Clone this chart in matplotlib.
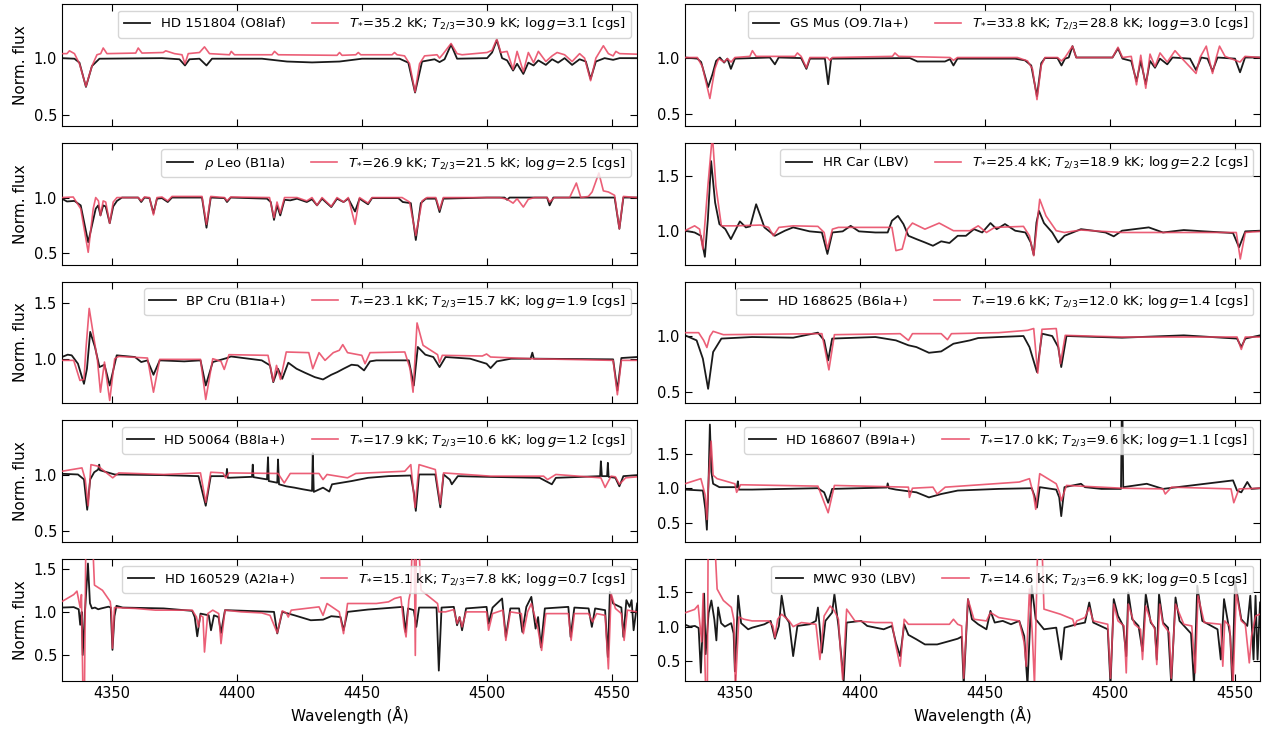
import matplotlib
matplotlib.use("Agg")
import matplotlib.pyplot as plt
from matplotlib.ticker import MultipleLocator

# ---------------- data (wavelength in Angstrom, normalised flux) ----------------
# HD 151804
hd151804_obs_wl = [4330, 4335, 4337, 4339.6, 4342, 4345, 4370, 4377, 4379.2, 4381, 4385, 4387.8, 4390, 4410, 4420, 4430, 4441, 4450, 4465, 4468.5, 4471.2, 4474, 4479, 4481, 4483, 4485.6, 4488, 4500, 4502, 4503.9, 4506, 4508, 4510.4, 4512, 4514.5, 4516.5, 4518.6, 4520.5, 4523.5, 4526, 4528.4, 4531, 4534, 4537, 4539.5, 4541.4, 4543.5, 4547, 4550.4, 4553, 4560]
hd151804_obs_fx = [1.0, 0.995, 0.96, 0.745, 0.93, 0.995, 1.0, 0.99, 0.935, 0.99, 0.995, 0.935, 0.995, 0.995, 0.97, 0.962, 0.97, 0.995, 0.995, 0.96, 0.695, 0.97, 0.99, 0.965, 0.99, 1.12, 0.995, 1.0, 1.05, 1.16, 1.0, 0.98, 0.89, 0.95, 0.86, 0.96, 0.935, 0.98, 0.94, 0.99, 0.96, 1.0, 0.94, 0.99, 0.97, 0.815, 0.97, 1.0, 0.985, 1.0, 1.0]
hd151804_mod_wl = [4330, 4332, 4333, 4335, 4337, 4339.6, 4342, 4344, 4345.5, 4346.5, 4348, 4359.5, 4360.5, 4362, 4370.5, 4371.5, 4375, 4378, 4379.2, 4380.5, 4385, 4387, 4389, 4397, 4397.7, 4399, 4414, 4415, 4416.5, 4440, 4441, 4442, 4447.5, 4448.5, 4449.5, 4462, 4463, 4464, 4467, 4469, 4471.2, 4473, 4475, 4480, 4481, 4482.5, 4485.6, 4488, 4490, 4500, 4502, 4503.9, 4505.5, 4508, 4510.4, 4512, 4514.5, 4516.5, 4518.6, 4520.5, 4523.5, 4526, 4528, 4531, 4534, 4537, 4539, 4541.4, 4543.5, 4546.5, 4548.5, 4550.4, 4551.5, 4553, 4560]
hd151804_mod_fx = [1.04, 1.04, 1.065, 1.04, 0.95, 0.75, 0.93, 1.03, 1.04, 1.09, 1.04, 1.045, 1.09, 1.045, 1.05, 1.065, 1.04, 1.03, 0.95, 1.04, 1.05, 1.10, 1.04, 1.03, 1.06, 1.03, 1.03, 1.06, 1.03, 1.025, 1.05, 1.025, 1.03, 1.05, 1.03, 1.03, 1.05, 1.03, 1.02, 0.95, 0.70, 0.95, 1.02, 1.03, 1.0, 1.04, 1.13, 1.04, 1.03, 1.05, 1.07, 1.17, 1.05, 1.06, 0.90, 1.06, 0.88, 1.05, 0.96, 1.06, 0.97, 1.02, 1.05, 1.03, 0.97, 1.04, 1.0, 0.80, 1.0, 1.11, 1.04, 1.02, 1.06, 1.04, 1.035]

# GS Mus
gsmus_obs_wl = [4330, 4335, 4336.5, 4339.3, 4341, 4342.5, 4344, 4345.7, 4347, 4348.4, 4350, 4364, 4366, 4367.5, 4376.5, 4378.6, 4380, 4386, 4387.3, 4388.5, 4420, 4423, 4434, 4436, 4437.4, 4439, 4462, 4466, 4468.5, 4470.8, 4472.5, 4474, 4479, 4480.6, 4482, 4483.5, 4485, 4486.5, 4501, 4503.2, 4505, 4508.5, 4510.6, 4512.3, 4514.3, 4516, 4518, 4520, 4522.9, 4525, 4532, 4534.4, 4536.5, 4539, 4541, 4543, 4550, 4552, 4554, 4560]
gsmus_obs_fx = [1.0, 0.99, 0.96, 0.74, 0.85, 0.97, 1.0, 0.955, 0.99, 0.90, 0.99, 1.0, 0.94, 1.0, 0.995, 0.90, 0.99, 0.99, 0.765, 0.99, 0.995, 0.965, 0.965, 0.985, 0.93, 0.99, 0.99, 0.975, 0.93, 0.66, 0.95, 0.995, 0.995, 0.93, 0.99, 1.0, 1.10, 1.0, 1.0, 1.08, 0.99, 0.97, 0.79, 0.97, 0.765, 0.97, 0.91, 0.99, 0.94, 1.0, 0.99, 0.89, 1.0, 0.99, 0.88, 1.0, 0.99, 0.87, 1.0, 1.0]
gsmus_mod_wl = [4330, 4335, 4337, 4340, 4342, 4343.5, 4345.7, 4347, 4348.5, 4350, 4356, 4357, 4358.5, 4374, 4375, 4376.5, 4378.6, 4380, 4387, 4388, 4389, 4413, 4414, 4415.5, 4436, 4437.4, 4439, 4463, 4467, 4469, 4470.8, 4472.5, 4474, 4479, 4480.6, 4482, 4485, 4486.5, 4501, 4503.2, 4505, 4508.5, 4510.6, 4512.3, 4514.3, 4516, 4518, 4520, 4522.9, 4526, 4528, 4534.4, 4536, 4538.5, 4539.5, 4541, 4542.5, 4543.8, 4546, 4552, 4554, 4560]
gsmus_mod_fx = [1.0, 1.0, 0.92, 0.64, 0.90, 0.99, 0.96, 0.99, 0.96, 1.0, 1.01, 1.06, 1.01, 1.01, 1.04, 1.01, 0.91, 1.0, 1.0, 0.975, 1.0, 1.01, 1.04, 1.01, 1.0, 0.975, 1.0, 1.0, 0.97, 0.90, 0.63, 0.93, 1.0, 1.0, 0.97, 1.0, 1.10, 1.0, 1.0, 1.09, 1.0, 1.01, 0.76, 1.02, 0.73, 1.03, 0.92, 1.04, 0.96, 1.06, 1.01, 0.86, 1.0, 1.10, 1.0, 0.86, 1.0, 1.10, 1.01, 0.96, 1.01, 1.0]

# rho Leo
rholeo_obs_wl = [4330, 4332, 4335, 4337.5, 4340.5, 4343.5, 4344.5, 4345.4, 4346.5, 4347.5, 4349.1, 4350.5, 4352, 4354, 4360.5, 4361.7, 4363, 4365, 4366.6, 4368, 4370, 4372.3, 4374, 4386, 4387.8, 4389.5, 4395, 4396, 4397.5, 4412, 4413.5, 4414.8, 4416, 4417.3, 4419, 4421.3, 4424, 4427.9, 4430, 4432, 4434, 4437.7, 4440, 4442.6, 4444.5, 4447.2, 4449, 4452.4, 4454, 4464.5, 4466.3, 4469.5, 4471.5, 4473.5, 4475.5, 4479.5, 4481, 4482.5, 4500, 4507, 4508, 4509, 4524, 4525, 4526.5, 4551, 4552.9, 4554.5, 4560]
rholeo_obs_fx = [0.99, 0.965, 0.97, 0.93, 0.60, 0.90, 0.93, 0.84, 0.93, 0.92, 0.77, 0.92, 0.97, 1.0, 1.0, 0.96, 1.0, 0.995, 0.86, 0.99, 0.995, 0.96, 1.0, 1.0, 0.73, 1.0, 0.995, 0.96, 1.0, 0.99, 0.96, 0.80, 0.93, 0.84, 0.98, 0.975, 0.99, 0.96, 0.985, 0.93, 0.99, 0.915, 0.99, 0.96, 0.99, 0.875, 0.99, 0.94, 0.995, 0.995, 0.96, 0.95, 0.62, 0.95, 0.99, 0.99, 0.87, 0.99, 1.0, 1.0, 0.98, 1.0, 1.0, 0.93, 1.0, 1.0, 0.72, 1.0, 1.0]
rholeo_mod_wl = [4330, 4334.5, 4337.5, 4340.5, 4342.5, 4343.5, 4344.6, 4345.4, 4346.5, 4347.5, 4349.1, 4350.5, 4352, 4360.5, 4361.7, 4363, 4365, 4366.6, 4368, 4370, 4372.3, 4374, 4386, 4387.8, 4389.5, 4395, 4396, 4397.5, 4413, 4414.8, 4416, 4417.3, 4419, 4424, 4427.9, 4430, 4432, 4434, 4437.7, 4440, 4442.6, 4444.5, 4447.2, 4449, 4452.4, 4454, 4466, 4469, 4471.5, 4474, 4476, 4479.5, 4481, 4482.5, 4505, 4508, 4510.4, 4512, 4514.5, 4516.5, 4519, 4524, 4525, 4527, 4533, 4535.7, 4537.5, 4540.5, 4542, 4544.7, 4546.5, 4548.5, 4551, 4552.9, 4554.5, 4560]
rholeo_mod_fx = [1.0, 1.005, 0.90, 0.51, 0.90, 1.0, 0.97, 0.84, 0.97, 0.96, 0.77, 0.96, 1.0, 1.0, 0.97, 1.005, 1.0, 0.845, 1.0, 1.005, 0.97, 1.01, 1.01, 0.76, 1.01, 1.0, 0.97, 1.005, 1.0, 0.82, 0.96, 0.86, 1.0, 1.0, 0.97, 1.0, 0.93, 1.0, 0.92, 1.0, 0.96, 1.0, 0.76, 1.0, 0.95, 1.0, 1.0, 0.96, 0.66, 0.97, 1.0, 1.0, 0.89, 1.0, 1.0, 0.985, 0.95, 0.99, 0.915, 0.985, 1.0, 1.0, 0.96, 1.0, 1.0, 1.13, 1.0, 1.01, 1.05, 1.22, 1.06, 1.05, 1.02, 0.72, 1.01, 1.0]

# HR Car
hrcar_obs_wl = [4330, 4333.9, 4336.4, 4338.0, 4339.2, 4340.5, 4342.1, 4343.8, 4346.2, 4348.4, 4352.0, 4354.4, 4356.1, 4358.5, 4360.2, 4361.8, 4366.0, 4370.0, 4373.3, 4379.9, 4384.8, 4387.0, 4389.0, 4393.1, 4396.3, 4399.6, 4406.2, 4411.1, 4412.8, 4415.2, 4417.4, 4419.4, 4422.6, 4426.0, 4429.2, 4432.5, 4435.8, 4439.1, 4442.4, 4445.6, 4448.9, 4452.2, 4454.7, 4458.0, 4462.1, 4466.2, 4468.3, 4469.5, 4470.6, 4471.6, 4473.6, 4476.9, 4479.3, 4481.8, 4488.4, 4493.3, 4498.2, 4501.5, 4504.8, 4515.5, 4521.2, 4529.5, 4537.7, 4549.2, 4551.6, 4554.1, 4560]
hrcar_obs_fx = [1.006, 0.99, 0.96, 0.77, 1.11, 1.635, 1.26, 1.066, 1.02, 0.93, 1.09, 1.036, 1.045, 1.245, 1.14, 1.036, 0.96, 1.006, 1.036, 1.0, 0.99, 0.796, 0.99, 1.0, 1.05, 1.0, 0.99, 0.99, 1.096, 1.14, 1.066, 0.96, 0.93, 0.90, 0.87, 0.91, 0.895, 0.96, 0.96, 1.02, 0.99, 1.075, 1.02, 1.066, 1.006, 0.99, 0.90, 0.787, 1.08, 1.185, 1.075, 0.99, 0.90, 0.96, 1.02, 1.006, 0.99, 0.955, 1.006, 1.036, 0.99, 1.012, 1.0, 0.985, 0.856, 1.0, 1.006]
hrcar_mod_wl = [4330, 4333.9, 4335.9, 4337.2, 4339.2, 4341.0, 4342.4, 4344.6, 4350.3, 4360.2, 4363.5, 4365.4, 4367.6, 4373.3, 4383.2, 4385.7, 4387.0, 4389.0, 4391.4, 4412.8, 4414.4, 4416.9, 4419.0, 4421.0, 4426.0, 4431.7, 4437.4, 4444.0, 4447.3, 4450.6, 4453.9, 4465.4, 4467.8, 4469.5, 4471.9, 4474.4, 4478.5, 4481.8, 4488.4, 4504.8, 4521.2, 4550.5, 4552.1, 4554.1, 4560]
hrcar_mod_fx = [1.006, 1.05, 1.02, 0.84, 1.41, 1.87, 1.41, 1.05, 1.05, 1.057, 1.036, 0.96, 1.036, 1.05, 1.045, 0.99, 0.84, 1.02, 1.036, 1.036, 0.826, 0.84, 1.02, 1.075, 1.02, 1.075, 1.006, 1.006, 1.05, 0.99, 1.036, 1.045, 0.96, 0.78, 1.29, 1.14, 1.006, 0.99, 1.012, 0.99, 0.99, 0.99, 0.75, 0.99, 1.0]

# BP Cru
bpcru_obs_wl = [4330, 4332.3, 4333.9, 4336.4, 4338.8, 4340.0, 4341.3, 4343.2, 4345.0, 4347.0, 4349.1, 4351.9, 4359.2, 4361.7, 4364.2, 4366.6, 4369.1, 4378.9, 4385.4, 4387.5, 4390.3, 4396.0, 4397.6, 4409.9, 4413.2, 4414.5, 4416.4, 4418.1, 4420.5, 4423.8, 4427.1, 4431.1, 4434.4, 4437.7, 4440.1, 4442.6, 4445.8, 4448.3, 4450.8, 4453.2, 4455.7, 4468.7, 4470.7, 4472.3, 4475.3, 4478.5, 4481.0, 4483.4, 4493.2, 4499.8, 4501.4, 4503.9, 4509.6, 4517.4, 4518.1, 4518.7, 4550.4, 4552.1, 4553.7, 4560]
bpcru_obs_fx = [1.015, 1.036, 1.03, 0.955, 0.775, 0.91, 1.24, 1.105, 0.925, 0.946, 0.76, 1.03, 1.015, 0.97, 0.985, 0.856, 0.985, 0.976, 0.985, 0.76, 0.97, 1.006, 1.02, 0.985, 0.94, 0.79, 0.91, 0.82, 0.964, 0.91, 0.875, 0.835, 0.814, 0.856, 0.88, 0.91, 0.946, 0.94, 0.895, 0.976, 0.985, 0.985, 0.76, 1.105, 1.036, 1.015, 0.925, 1.015, 1.0, 0.955, 0.916, 0.976, 1.0, 1.0, 1.054, 1.0, 0.994, 0.716, 1.006, 1.015]
bpcru_mod_wl = [4330, 4334.7, 4337.2, 4338.8, 4339.6, 4340.9, 4342.6, 4344.2, 4345.4, 4347.0, 4349.1, 4351.1, 4352.7, 4364.2, 4366.6, 4369.1, 4385.4, 4387.5, 4390.3, 4393.6, 4394.9, 4396.8, 4412.4, 4414.5, 4415.8, 4417.4, 4419.7, 4428.7, 4430.3, 4432.8, 4435.2, 4438.5, 4440.9, 4442.3, 4444.2, 4449.9, 4451.2, 4453.2, 4467.1, 4469.2, 4470.4, 4472.0, 4474.4, 4480.2, 4481.0, 4482.1, 4498.1, 4499.8, 4501.4, 4517.7, 4550.4, 4552.1, 4553.7, 4560]
bpcru_mod_fx = [0.985, 0.985, 0.805, 0.814, 1.09, 1.45, 1.21, 0.985, 0.70, 0.97, 0.626, 1.0, 1.02, 1.006, 0.70, 0.994, 0.994, 0.635, 1.0, 0.976, 0.904, 1.036, 1.03, 0.796, 0.94, 0.814, 1.06, 1.054, 0.91, 1.054, 0.985, 1.054, 1.075, 1.126, 1.054, 1.03, 0.955, 1.054, 1.06, 0.91, 0.70, 1.32, 1.12, 1.036, 0.964, 1.03, 1.024, 1.042, 1.015, 1.0, 0.985, 0.677, 0.985, 0.985]

# HD 168625
hd168625_obs_wl = [4330, 4334.7, 4337.2, 4339.3, 4341.3, 4344.6, 4356.9, 4373.3, 4383.2, 4385.7, 4387.3, 4388.9, 4406.2, 4414.4, 4419.4, 4422.6, 4427.6, 4432.5, 4437.4, 4444.0, 4447.3, 4455.5, 4465.4, 4467.8, 4470.8, 4472.8, 4476.9, 4479.3, 4480.5, 4482.6, 4504.8, 4529.5, 4550.8, 4552.5, 4554.1, 4560]
hd168625_obs_fx = [1.01, 0.964, 0.80, 0.53, 0.86, 0.98, 0.994, 0.988, 1.033, 0.964, 0.785, 0.98, 0.994, 0.964, 0.92, 0.904, 0.853, 0.865, 0.934, 0.964, 0.985, 0.994, 1.003, 0.904, 0.68, 1.024, 1.003, 0.904, 0.725, 1.003, 0.988, 1.009, 0.98, 0.904, 0.98, 1.009]
hd168625_mod_wl = [4330, 4335.5, 4337.5, 4338.8, 4340.0, 4341.3, 4345.4, 4384.8, 4387.6, 4389.8, 4416.1, 4419.4, 4421.0, 4432.5, 4435.0, 4436.6, 4455.5, 4467.0, 4469.5, 4471.1, 4472.8, 4478.5, 4480.2, 4482.1, 4504.8, 4550.8, 4552.5, 4554.1, 4560]
hd168625_mod_fx = [1.033, 1.033, 0.964, 0.90, 1.0, 1.045, 1.015, 1.024, 0.70, 1.015, 1.024, 0.964, 1.024, 1.024, 0.97, 1.024, 1.033, 1.054, 1.07, 0.67, 1.063, 1.07, 0.755, 1.009, 0.994, 0.994, 0.883, 0.994, 0.994]

# HD 50064
hd50064_obs_wl = [4330, 4336.4, 4338.8, 4340.1, 4341.3, 4342.9, 4344.5, 4344.9, 4345.2, 4351.1, 4370.7, 4384.6, 4387.5, 4389.5, 4395.7, 4396.0, 4396.3, 4406.0, 4406.3, 4406.6, 4412.0, 4412.4, 4412.7, 4416.1, 4416.4, 4416.8, 4419.7, 4423.0, 4426.2, 4430.0, 4430.3, 4430.7, 4434.4, 4436.9, 4438.0, 4445.8, 4452.4, 4460.6, 4469.5, 4470.7, 4471.5, 4472.8, 4479.3, 4481.3, 4482.6, 4485.1, 4485.9, 4488.3, 4499.8, 4521.0, 4525.9, 4527.5, 4545.2, 4545.5, 4545.9, 4548.0, 4548.3, 4548.6, 4551.3, 4552.9, 4554.5, 4560]
hd50064_obs_fx = [1.012, 1.006, 0.962, 0.69, 0.962, 1.026, 1.05, 1.094, 1.044, 1.006, 1.0, 0.991, 0.726, 0.991, 0.991, 1.056, 0.976, 0.985, 1.094, 0.982, 0.962, 1.16, 0.947, 0.932, 1.14, 0.918, 0.90, 0.888, 0.874, 0.859, 1.197, 0.85, 0.888, 0.853, 0.918, 0.947, 0.976, 0.991, 0.997, 0.844, 0.68, 1.006, 1.006, 0.712, 1.006, 0.96, 0.918, 0.991, 0.985, 0.976, 0.918, 0.976, 0.991, 1.124, 0.991, 0.991, 1.11, 0.985, 0.976, 0.90, 0.991, 1.0]
hd50064_mod_wl = [4330, 4338.0, 4339.3, 4340.5, 4341.6, 4344.5, 4350.3, 4352.7, 4370.7, 4385.4, 4387.5, 4389.5, 4394.4, 4395.5, 4396.8, 4416.4, 4418.9, 4421.3, 4432.8, 4434.4, 4436.0, 4444.2, 4447.5, 4467.1, 4469.5, 4471.2, 4472.8, 4479.3, 4481.3, 4482.6, 4501.4, 4522.6, 4524.2, 4527.5, 4545.5, 4547.2, 4549.6, 4551.3, 4552.9, 4555.4, 4560]
hd50064_mod_fx = [1.035, 1.065, 0.962, 0.726, 1.094, 1.08, 0.976, 1.02, 1.006, 1.02, 0.756, 1.026, 1.02, 0.976, 1.02, 1.015, 0.93, 1.015, 1.015, 0.96, 1.006, 0.976, 1.015, 1.035, 1.094, 0.71, 1.094, 1.05, 0.74, 1.02, 0.991, 0.991, 0.96, 1.006, 0.976, 0.89, 0.991, 0.985, 0.918, 0.976, 0.985]

# HD 168607
hd168607_obs_wl = [4330, 4337.2, 4338.2, 4338.8, 4339.5, 4340.0, 4340.6, 4341.3, 4343.8, 4350.8, 4351.2, 4351.6, 4356.9, 4383.2, 4385.7, 4387.3, 4388.9, 4410.8, 4411.1, 4411.6, 4414.4, 4422.6, 4427.6, 4432.5, 4439.1, 4455.5, 4468.7, 4469.8, 4470.8, 4471.9, 4478.5, 4479.7, 4480.5, 4481.8, 4488.4, 4490.0, 4496.6, 4504.4, 4504.7, 4505.0, 4505.3, 4514.7, 4521.2, 4549.2, 4550.8, 4552.5, 4554.9, 4556.6, 4560]
hd168607_obs_fx = [0.98, 0.966, 0.695, 0.40, 1.14, 1.92, 1.236, 1.064, 1.015, 1.015, 1.10, 0.98, 0.98, 1.0, 0.94, 0.79, 0.99, 1.01, 1.07, 1.0, 0.98, 0.94, 0.867, 0.916, 0.966, 0.99, 1.0, 0.89, 0.72, 1.015, 0.98, 0.867, 0.596, 1.015, 1.064, 1.015, 0.99, 0.99, 2.05, 2.05, 1.015, 1.064, 0.99, 1.113, 0.966, 0.94, 1.09, 0.99, 1.0]
hd168607_mod_wl = [4330, 4336.4, 4338.2, 4338.8, 4339.5, 4340.5, 4341.3, 4342.9, 4350.0, 4350.7, 4352.3, 4383.2, 4387.3, 4389.8, 4419.4, 4419.8, 4421.0, 4429.2, 4430.9, 4434.1, 4463.7, 4467.8, 4469.5, 4470.3, 4471.9, 4478.5, 4479.8, 4480.5, 4482.6, 4504.8, 4521.2, 4522.1, 4524.6, 4548.4, 4549.5, 4551.6, 4560]
hd168607_mod_fx = [1.064, 1.138, 0.89, 0.547, 1.138, 1.68, 1.187, 1.138, 1.064, 0.94, 1.05, 1.03, 0.645, 1.04, 1.015, 0.867, 1.0, 1.015, 0.916, 1.015, 1.089, 1.138, 0.89, 0.695, 1.21, 1.064, 0.94, 0.818, 1.04, 1.0, 0.99, 0.916, 1.015, 0.99, 0.79, 0.99, 1.0]

# HD 160529
hd160529_obs_wl = [4330, 4334.7, 4336.7, 4337.3, 4337.9, 4338.3, 4339.2, 4340.4, 4341.2, 4342.0, 4343.2, 4344.5, 4345.7, 4348.6, 4349.5, 4350.2, 4351.0, 4351.8, 4354.3, 4370.7, 4382.1, 4383.1, 4384.1, 4385.4, 4388.7, 4389.6, 4390.8, 4392.6, 4393.6, 4395.2, 4403.4, 4414.8, 4416.1, 4418.1, 4423.0, 4429.5, 4434.4, 4437.7, 4441.4, 4442.6, 4444.2, 4452.4, 4466.3, 4467.4, 4468.4, 4470.7, 4471.7, 4472.8, 4479.8, 4480.7, 4481.8, 4486.7, 4488.0, 4489.0, 4490.0, 4491.6, 4499.8, 4500.6, 4502.2, 4506.0, 4507.5, 4509.3, 4512.8, 4514.1, 4515.7, 4517.7, 4519.4, 4520.4, 4521.5, 4523.1, 4532.5, 4533.4, 4534.9, 4540.6, 4541.9, 4543.2, 4547.2, 4548.3, 4549.1, 4550.4, 4553.7, 4554.5, 4555.7, 4557.0, 4557.8, 4558.6, 4560]
hd160529_obs_fx = [1.05, 1.055, 1.03, 0.85, 1.0, 0.5, 1.0, 1.56, 1.1, 1.04, 1.05, 1.03, 1.04, 1.06, 1.05, 0.56, 0.95, 1.07, 1.05, 1.04, 1.012, 0.94, 0.717, 0.98, 0.96, 0.787, 0.96, 0.94, 0.756, 1.02, 1.012, 1.0, 0.75, 1.0, 0.96, 0.903, 0.91, 0.95, 0.94, 0.787, 1.0, 1.027, 1.058, 0.767, 1.04, 1.02, 0.826, 1.05, 1.05, 0.32, 1.05, 1.058, 0.845, 0.94, 0.787, 1.04, 1.058, 0.864, 1.05, 1.155, 0.71, 1.04, 1.04, 0.767, 1.058, 1.174, 0.806, 0.94, 0.59, 1.04, 1.058, 0.71, 1.05, 1.04, 0.826, 1.04, 1.02, 0.477, 1.233, 1.097, 1.05, 0.71, 1.136, 1.058, 1.136, 0.787, 1.097]
hd160529_mod_wl = [4330, 4334.7, 4336.0, 4337.3, 4337.8, 4338.4, 4339.0, 4339.6, 4340.3, 4342.0, 4343.0, 4346.2, 4349.3, 4349.8, 4350.2, 4351.0, 4359.2, 4367.4, 4382.1, 4383.8, 4384.6, 4385.4, 4386.4, 4387.0, 4388.3, 4390.3, 4392.7, 4393.6, 4395.2, 4401.7, 4409.9, 4413.2, 4416.1, 4418.1, 4419.7, 4420.5, 4421.7, 4432.8, 4434.4, 4436.0, 4440.9, 4442.6, 4444.2, 4455.7, 4460.6, 4463.0, 4465.5, 4466.8, 4467.6, 4468.7, 4469.5, 4470.3, 4470.8, 4471.3, 4471.8, 4472.3, 4473.6, 4476.9, 4480.2, 4480.7, 4483.4, 4486.7, 4488.0, 4489.0, 4490.0, 4491.6, 4499.8, 4500.6, 4502.2, 4506.3, 4507.5, 4509.3, 4513.7, 4514.5, 4516.2, 4517.7, 4520.2, 4521.8, 4523.5, 4532.5, 4533.6, 4534.9, 4540.6, 4542.2, 4543.8, 4547.2, 4548.5, 4549.6, 4551.3, 4553.7, 4554.8, 4556.1, 4560]
hd160529_mod_fx = [1.12, 1.2, 1.24, 1.05, 1.2, 0.05, 0.05, 2.0, 2.0, 2.0, 1.31, 1.25, 1.12, 1.0, 0.58, 1.05, 1.04, 1.02, 1.02, 0.94, 0.826, 0.96, 0.94, 0.535, 0.98, 1.02, 0.98, 0.632, 1.02, 1.0, 0.988, 0.96, 0.756, 1.012, 0.988, 0.94, 1.02, 1.058, 0.96, 1.097, 1.0, 0.748, 1.097, 1.097, 1.116, 1.155, 1.174, 0.826, 0.71, 1.136, 1.25, 2.0, 2.0, 0.496, 2.0, 2.0, 1.25, 1.174, 1.097, 1.0, 1.0, 1.027, 0.864, 0.94, 0.826, 1.0, 1.0, 0.787, 0.98, 1.02, 0.67, 1.0, 0.98, 0.748, 1.0, 1.097, 0.826, 0.554, 0.98, 0.98, 0.67, 0.98, 0.98, 0.884, 0.98, 0.96, 0.34, 1.213, 1.04, 0.98, 0.67, 1.02, 1.0]

# MWC 930
mwc930_obs_wl = [4330.0, 4332.0, 4334.0, 4335.5, 4336.4, 4337.0, 4337.7, 4338.3, 4339.5, 4340.6, 4341.8, 4342.6, 4343.3, 4344.5, 4346.0, 4348.5, 4349.5, 4350.0, 4351.3, 4352.5, 4355.3, 4356.9, 4361.8, 4364.3, 4366.0, 4367.6, 4368.7, 4370.0, 4371.7, 4373.3, 4375.0, 4379.9, 4382.4, 4383.2, 4384.0, 4384.8, 4386.2, 4388.9, 4389.8, 4391.4, 4392.7, 4393.5, 4394.7, 4400.5, 4402.9, 4409.5, 4412.8, 4414.4, 4416.1, 4417.7, 4419.4, 4422.6, 4426.0, 4430.9, 4435.8, 4439.1, 4440.7, 4441.5, 4443.2, 4444.8, 4447.3, 4450.6, 4452.2, 4453.9, 4457.1, 4460.4, 4463.7, 4465.7, 4467.0, 4468.7, 4470.3, 4473.6, 4478.5, 4480.5, 4481.8, 4486.7, 4490.0, 4491.7, 4493.3, 4499.1, 4500.2, 4501.5, 4503.2, 4505.3, 4506.5, 4507.3, 4508.9, 4511.4, 4513.0, 4514.3, 4516.3, 4517.9, 4518.7, 4519.6, 4521.2, 4523.2, 4524.5, 4526.2, 4527.8, 4532.4, 4533.6, 4534.9, 4536.9, 4543.0, 4544.3, 4545.6, 4547.2, 4548.1, 4548.9, 4550.0, 4552.5, 4554.9, 4556.1, 4557.4, 4558.2, 4559.0, 4560.0]
mwc930_obs_fx = [1.03, 1.0, 1.01, 0.98, 0.33, 0.9, 1.48, 0.6, 1.2, 1.38, 1.1, 0.8, 1.28, 1.05, 1.0, 1.05, 0.9, 0.35, 1.45, 1.05, 0.961, 0.985, 1.034, 1.083, 0.824, 1.01, 1.45, 1.156, 1.059, 0.571, 1.01, 1.034, 1.083, 1.278, 0.961, 0.62, 1.083, 1.205, 1.473, 1.01, 0.51, 0.20, 1.059, 1.083, 1.01, 0.961, 1.01, 0.766, 0.571, 1.034, 0.88, 0.815, 0.741, 0.741, 0.79, 0.824, 0.854, 0.15, 1.40, 1.107, 1.034, 0.961, 1.229, 1.059, 1.083, 1.034, 1.083, 0.863, 0.15, 1.595, 1.107, 0.961, 0.985, 0.522, 0.985, 1.034, 1.059, 1.351, 1.059, 0.961, 0.15, 1.40, 1.156, 1.01, 0.571, 1.498, 1.107, 1.01, 0.644, 1.473, 1.059, 0.985, 0.522, 1.473, 1.059, 0.985, 0.15, 1.424, 1.083, 0.90, 0.15, 1.595, 1.083, 0.961, 0.522, 1.40, 1.059, 0.863, 0.15, 1.668, 1.107, 1.01, 1.449, 0.522, 1.449, 0.522, 1.351]
mwc930_mod_wl = [4330, 4333.9, 4335.3, 4336.7, 4337.3, 4338.3, 4339.0, 4339.3, 4342.0, 4342.9, 4345.4, 4348.6, 4349.6, 4350.2, 4351.6, 4353.6, 4356.9, 4363.5, 4365.2, 4366.0, 4367.1, 4368.7, 4371.7, 4373.3, 4376.6, 4382.4, 4384.0, 4385.7, 4388.1, 4389.8, 4391.4, 4392.2, 4393.1, 4394.7, 4398.0, 4406.2, 4412.8, 4414.4, 4416.1, 4417.7, 4419.4, 4435.8, 4437.4, 4439.1, 4440.7, 4441.5, 4443.2, 4445.6, 4450.6, 4452.2, 4455.5, 4463.7, 4465.7, 4466.5, 4467.8, 4468.9, 4469.8, 4471.1, 4472.8, 4473.6, 4480.2, 4485.1, 4485.9, 4486.7, 4490.0, 4491.7, 4493.3, 4499.1, 4500.2, 4501.5, 4503.2, 4505.6, 4506.5, 4507.3, 4509.8, 4512.2, 4513.0, 4514.3, 4516.3, 4517.9, 4518.7, 4519.9, 4521.2, 4523.7, 4524.5, 4526.2, 4529.5, 4532.7, 4534.1, 4535.2, 4537.7, 4544.3, 4545.1, 4545.9, 4547.8, 4549.2, 4550.5, 4552.5, 4554.1, 4555.7, 4556.6, 4558.2, 4560]
mwc930_mod_fx = [1.2, 1.25, 1.31, 0.78, 1.48, 0.1, 0.1, 2.2, 2.2, 1.546, 1.38, 1.28, 1.1, 0.1, 1.14, 1.107, 1.083, 1.083, 1.01, 0.839, 1.107, 1.18, 1.083, 1.0, 1.059, 1.034, 0.522, 1.156, 1.30, 1.229, 1.107, 0.663, 0.23, 1.254, 1.083, 1.059, 1.059, 0.717, 0.424, 1.107, 1.034, 1.034, 1.107, 1.034, 1.01, 0.25, 1.40, 1.107, 1.083, 1.205, 1.132, 1.083, 0.766, 0.424, 1.546, 0.917, 0.15, 2.2, 2.2, 1.254, 1.18, 1.107, 1.01, 1.083, 1.132, 1.278, 1.083, 1.034, 0.25, 1.327, 1.083, 1.01, 0.327, 1.327, 1.034, 0.961, 0.522, 1.30, 1.083, 0.961, 0.449, 1.327, 1.034, 0.912, 0.25, 1.327, 1.034, 1.01, 0.327, 1.449, 1.059, 1.034, 0.424, 1.083, 1.01, 0.15, 1.498, 1.083, 1.034, 0.473, 0.863, 1.156, 1.18]

# labels
star_labels = ["HD 151804 (O8Iaf)", "GS Mus (O9.7Ia+)", r"$\rho$ Leo (B1Ia)", "HR Car (LBV)",
               "BP Cru (B1Ia+)", "HD 168625 (B6Ia+)", "HD 50064 (B8Ia+)", "HD 168607 (B9Ia+)",
               "HD 160529 (A2Ia+)", "MWC 930 (LBV)"]
t_star = [35.2, 33.8, 26.9, 25.4, 23.1, 19.6, 17.9, 17.0, 15.1, 14.6]
t_23 = [30.9, 28.8, 21.5, 18.9, 15.7, 12.0, 10.6, 9.6, 7.8, 6.9]
log_g = [3.1, 3.0, 2.5, 2.2, 1.9, 1.4, 1.2, 1.1, 0.7, 0.5]
x_ticks = [4350, 4400, 4450, 4500, 4550]

obs = [(hd151804_obs_wl, hd151804_obs_fx), (gsmus_obs_wl, gsmus_obs_fx),
       (rholeo_obs_wl, rholeo_obs_fx), (hrcar_obs_wl, hrcar_obs_fx),
       (bpcru_obs_wl, bpcru_obs_fx), (hd168625_obs_wl, hd168625_obs_fx),
       (hd50064_obs_wl, hd50064_obs_fx), (hd168607_obs_wl, hd168607_obs_fx),
       (hd160529_obs_wl, hd160529_obs_fx), (mwc930_obs_wl, mwc930_obs_fx)]
mod = [(hd151804_mod_wl, hd151804_mod_fx), (gsmus_mod_wl, gsmus_mod_fx),
       (rholeo_mod_wl, rholeo_mod_fx), (hrcar_mod_wl, hrcar_mod_fx),
       (bpcru_mod_wl, bpcru_mod_fx), (hd168625_mod_wl, hd168625_mod_fx),
       (hd50064_mod_wl, hd50064_mod_fx), (hd168607_mod_wl, hd168607_mod_fx),
       (hd160529_mod_wl, hd160529_mod_fx), (mwc930_mod_wl, mwc930_mod_fx)]
ylims = [(0.4, 1.48), (0.4, 1.47), (0.4, 1.49), (0.7, 1.8), (0.6, 1.69),
         (0.4, 1.49), (0.4, 1.49), (0.22, 1.98), (0.2, 1.61), (0.21, 1.98)]

# ---------------- plot ----------------
plt.rcParams['font.family'] = ['DejaVu Sans']
fig, axes = plt.subplots(5, 2, figsize=(12.72, 7.33), dpi=100, sharex=True)
fig.subplots_adjust(left=0.0487, right=0.9906, top=0.9945, bottom=0.071,
                    hspace=0.14, wspace=0.083)

OBS_C = '#1a1a1a'
MOD_C = '#e8435f'

for i in range(10):
    ax = axes[i // 2, i % 2]
    ow, of = obs[i]
    mw, mf = mod[i]
    ax.plot(ow, of, color=OBS_C, lw=1.3, label=star_labels[i], zorder=2)
    ax.plot(mw, mf, color=MOD_C, lw=1.2, alpha=0.85, zorder=3,
            label=r"$T_{*}$=%.1f kK; $T_{2/3}$=%.1f kK; $\log g$=%.1f [cgs]" % (t_star[i], t_23[i], log_g[i]))
    ax.set_xlim(4330, 4560)
    ax.set_ylim(*ylims[i])
    ax.set_xticks(x_ticks)
    ax.yaxis.set_major_locator(MultipleLocator(0.5))
    ax.tick_params(direction='in', top=True, right=True, labelsize=10.5, length=5)
    ax.legend(loc='upper right', ncol=2, fontsize=9.5, handlelength=2.0,
              columnspacing=2.0, borderpad=0.4)
    if i % 2 == 0:
        ax.set_ylabel('Norm. flux', fontsize=11)
    if i >= 8:
        ax.set_xlabel('Wavelength (Å)', fontsize=11)

fig.savefig('out.png', dpi=100)
